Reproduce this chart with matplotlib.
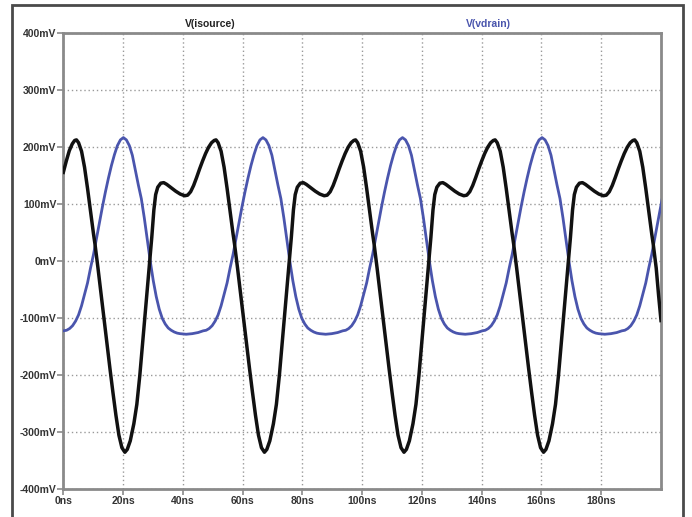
import matplotlib
matplotlib.use("Agg")
import matplotlib.pyplot as plt
from matplotlib.patches import Rectangle

# V(isource) trace, time in ns, value in mV
isource_t = [
    0, 1, 2, 3, 3.8, 4.4, 5.1, 6.1, 7.1, 8.1, 9.1, 10.1, 10.6, 11.6, 12.6, 13.6, 14.6,
    15.6, 16.6, 17.6, 18.6, 19.6, 20.6,
    21.4, 22.4, 23.6, 24.6, 25.6, 26.6, 27.6, 28.6, 29.6, 30.3, 30.9, 31.6, 32.6, 33.6,
    34.6, 36.1, 37.6, 39.1, 40.6, 41.6, 42.6, 43.6, 44.6, 45.6, 46.6, 47.6, 48.6, 49.6,
    50.5, 51.1, 51.8, 52.8, 53.8, 54.8, 55.8, 56.8, 57.3, 58.3, 59.3, 60.3, 61.3, 62.3,
    63.3, 64.3, 65.3, 66.3, 67.3,
    68.1, 69.1, 70.3, 71.3, 72.3, 73.3, 74.3, 75.3, 76.3, 77.0, 77.6, 78.3, 79.3, 80.3,
    81.3, 82.8, 84.3, 85.8, 87.3, 88.3, 89.3, 90.3, 91.3, 92.3, 93.3, 94.3, 95.3, 96.3,
    97.2, 97.8, 98.5, 99.5, 100.5, 101.5, 102.5, 103.5, 104.0, 105.0, 106.0, 107.0, 108.0,
    109.0, 110.0, 111.0, 112.0, 113.0, 114.0,
    114.8, 115.8, 117.0, 118.0, 119.0, 120.0, 121.0, 122.0, 123.0, 123.7, 124.3, 125.0,
    126.0, 127.0, 128.0, 129.5, 131.0, 132.5, 134.0, 135.0, 136.0, 137.0, 138.0, 139.0,
    140.0, 141.0, 142.0, 143.0,
    143.9, 144.5, 145.2, 146.2, 147.2, 148.2, 149.2, 150.2, 150.7, 151.7, 152.7, 153.7,
    154.7, 155.7, 156.7, 157.7, 158.7, 159.7, 160.7,
    161.5, 162.5, 163.7, 164.7, 165.7, 166.7, 167.7, 168.7, 169.7, 170.4, 171.0, 171.7,
    172.7, 173.7, 174.7, 176.2, 177.7, 179.2, 180.7, 181.7, 182.7, 183.7, 184.7, 185.7,
    186.7, 187.7, 188.7, 189.7,
    190.6, 191.2, 191.9, 192.9, 193.9, 194.9, 195.9, 196.9, 197.4, 198.4, 199.2, 200.0,
]
isource_mv = [
    156, 176, 194, 206, 212, 213, 208, 193, 165, 128, 88, 48, 30, -12, -56, -100, -144,
    -188, -230, -270, -305, -327, -335,
    -330, -315, -285, -251, -200, -140, -80, -20, 42, 90, 117, 130, 137, 138,
    135, 129, 123, 118, 115, 116, 122, 133, 147, 162, 176, 189, 200, 208,
    212, 213, 208, 193, 165, 128, 88, 48, 30, -12, -56, -100, -144, -188,
    -230, -270, -305, -327, -335,
    -330, -315, -285, -251, -200, -140, -80, -20, 42, 90, 117, 130, 137, 138,
    135, 129, 123, 118, 115, 116, 122, 133, 147, 162, 176, 189, 200, 208,
    212, 213, 208, 193, 165, 128, 88, 48, 30, -12, -56, -100, -144,
    -188, -230, -270, -305, -327, -335,
    -330, -315, -285, -251, -200, -140, -80, -20, 42, 90, 117, 130,
    137, 138, 135, 129, 123, 118, 115, 116, 122, 133, 147, 162,
    176, 189, 200, 208,
    212, 213, 208, 193, 165, 128, 88, 48, 30, -12, -56, -100,
    -144, -188, -230, -270, -305, -327, -335,
    -330, -315, -285, -251, -200, -140, -80, -20, 42, 90, 117, 130,
    137, 138, 135, 129, 123, 118, 115, 116, 122, 133, 147, 162,
    176, 189, 200, 208,
    212, 213, 208, 193, 165, 128, 88, 48, 30, -12, -60, -104,
]

# V(vdrain) trace
vdrain_t = [
    0, 1.1, 2.1, 3.1, 4.1, 5.1, 6.1, 7.1, 8.1, 9.1, 10.1, 11.1, 12.1, 13.1, 14.1, 15.1,
    16.1, 17.1, 18.1, 19.1, 20.1,
    21.1, 22.1, 23.1, 24.1, 25.1, 26.1, 27.1, 28.1, 29.1, 30.1, 31.1, 32.1, 33.1, 34.1,
    35.1, 36.1, 37.1, 38.1, 39.1, 41.1, 43.1, 45.1, 46.8,
    47.8, 48.8, 49.8, 50.8, 51.8, 52.8, 53.8, 54.8, 55.8, 56.8, 57.8, 58.8, 59.8, 60.8,
    61.8, 62.8, 63.8, 64.8, 65.8, 66.8,
    67.8, 68.8, 69.8, 70.8, 71.8, 72.8, 73.8, 74.8, 75.8, 76.8, 77.8, 78.8, 79.8, 80.8,
    81.8, 82.8, 83.8, 84.8, 85.8, 87.8, 89.8, 91.8, 93.5,
    94.5, 95.5, 96.5, 97.5, 98.5, 99.5, 100.5, 101.5, 102.5, 103.5, 104.5, 105.5, 106.5,
    107.5, 108.5, 109.5, 110.5, 111.5, 112.5, 113.5,
    114.5, 115.5, 116.5, 117.5, 118.5, 119.5, 120.5, 121.5, 122.5, 123.5, 124.5, 125.5,
    126.5, 127.5, 128.5, 129.5, 130.5, 131.5, 132.5, 134.5, 136.5, 138.5, 140.2,
    141.2, 142.2, 143.2, 144.2, 145.2, 146.2, 147.2, 148.2, 149.2, 150.2, 151.2, 152.2,
    153.2, 154.2, 155.2, 156.2, 157.2, 158.2, 159.2, 160.2,
    161.2, 162.2, 163.2, 164.2, 165.2, 166.2, 167.2, 168.2, 169.2, 170.2, 171.2, 172.2,
    173.2, 174.2, 175.2, 176.2, 177.2, 178.2, 179.2, 181.2, 183.2, 185.2, 186.9,
    187.9, 188.9, 189.9, 190.9, 191.9, 192.9, 193.9, 194.9, 195.9, 196.9, 197.9, 198.9,
    199.9, 200.9,
]
vdrain_mv = [
    -122, -121, -118, -113, -105, -94, -78, -58, -38, -12, 12, 40, 68, 96, 122, 146,
    168, 187, 203, 213, 217,
    213, 203, 186, 160, 134, 110, 76, 38, 0, -34, -62, -84, -100, -110,
    -117, -121, -124, -126, -127, -128, -127, -125, -122,
    -121, -118, -113, -105, -94, -78, -58, -38, -12, 12, 40, 68, 96, 122,
    146, 168, 187, 203, 213, 217,
    213, 203, 186, 160, 134, 110, 76, 38, 0, -34, -62, -84, -100, -110,
    -117, -121, -124, -126, -127, -128, -127, -125, -122,
    -121, -118, -113, -105, -94, -78, -58, -38, -12, 12, 40, 68, 96,
    122, 146, 168, 187, 203, 213, 217,
    213, 203, 186, 160, 134, 110, 76, 38, 0, -34, -62, -84,
    -100, -110, -117, -121, -124, -126, -127, -128, -127, -125, -122,
    -121, -118, -113, -105, -94, -78, -58, -38, -12, 12, 40, 68,
    96, 122, 146, 168, 187, 203, 213, 217,
    213, 203, 186, 160, 134, 110, 76, 38, 0, -34, -62, -84,
    -100, -110, -117, -121, -124, -126, -127, -128, -127, -125, -122,
    -121, -118, -113, -105, -94, -78, -58, -38, -12, 12, 40, 68,
    96, 122,
]

x_ticks = [0, 20, 40, 60, 80, 100, 120, 140, 160, 180]
y_ticks = [-400, -300, -200, -100, 0, 100, 200, 300, 400]
x_labels = [f"{v}ns" for v in x_ticks]
y_labels = [f"{v}mV" for v in y_ticks]

BLUE = "#4a55ad"
AXIS_GRAY = "#8a8a8a"
FONT = "Liberation Sans"

fig = plt.figure(figsize=(6.92, 5.17), dpi=100)
fig.patch.set_facecolor("white")

# outer screenshot frame
fig.patches.append(Rectangle((12 / 692, -0.02), 671 / 692, 1.02 - 5 / 517,
                             transform=fig.transFigure, fill=False,
                             edgecolor="#4a4a4a", linewidth=2))

ax = fig.add_axes([0.0915, 0.0536, 0.9552 - 0.0915, 0.9356 - 0.0536])
ax.plot(vdrain_t, vdrain_mv, color=BLUE, linewidth=2.0, zorder=3)
ax.plot(isource_t, isource_mv, color="#111111", linewidth=2.5, zorder=4)

ax.set_xlim(0, 200)
ax.set_ylim(-400, 400)
ax.set_xticks(x_ticks)
ax.set_xticklabels(x_labels)
ax.set_yticks(y_ticks)
ax.set_yticklabels(y_labels)

for lab in ax.get_xticklabels() + ax.get_yticklabels():
    lab.set_fontfamily(FONT)
    lab.set_fontweight("bold")
    lab.set_fontsize(7.5)
    lab.set_color("#333333")

ax.tick_params(axis="both", direction="out", length=4, width=1.2, color=AXIS_GRAY, pad=1)
ax.grid(True, color="#999999", linestyle=(0, (1, 2)), linewidth=1.0)
for sp in ax.spines.values():
    sp.set_color(AXIS_GRAY)
    sp.set_linewidth(2)

fig.text(210 / 692, 1 - 24 / 517, "V(isource)", ha="center", va="center",
         fontsize=7.5, fontweight="bold", family=FONT, color="#222222")
fig.text(488 / 692, 1 - 24 / 517, "V(vdrain)", ha="center", va="center",
         fontsize=7.5, fontweight="bold", family=FONT, color=BLUE)

fig.savefig("out.png", dpi=100, facecolor="white")
